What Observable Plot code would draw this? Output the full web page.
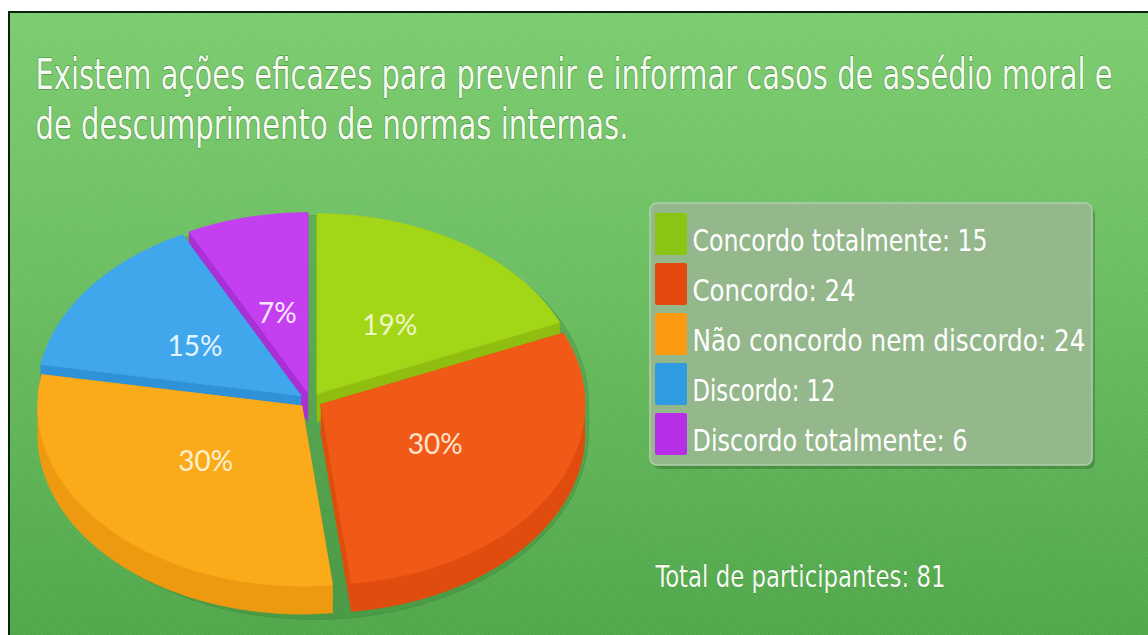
<!DOCTYPE html>
<html>
<head>
<meta charset="utf-8">
<script src="https://cdn.jsdelivr.net/npm/d3@7"></script>
<script src="https://cdn.jsdelivr.net/npm/@observablehq/plot@0.6"></script>
<style>
  html, body { margin: 0; padding: 0; background: #ffffff; }
  #frame { position: absolute; left: 0; top: 0; width: 1148px; height: 635px; background: #ffffff; overflow: hidden; }
  #bg {
    position: absolute; left: 8px; top: 11px; width: 1140px; height: 624px;
    border-left: 2px solid #0d1f0d; border-top: 2px solid #0d1f0d;
    background:
      repeating-linear-gradient(45deg, rgba(255,255,255,0.05) 0px, rgba(255,255,255,0.05) 1px, rgba(0,0,0,0) 1px, rgba(0,0,0,0) 3px),
      linear-gradient(180deg, #7bcc6f 0%, #6abd60 45%, #4fa74a 100%);
  }
  #chart { position: absolute; left: 0; top: 0; }
</style>
</head>
<body>
<div id="frame">
  <div id="bg"></div>
  <div id="chart"></div>
</div>
<script>
// ---------- data ----------
const titleLines = [
  "Existem ações eficazes para prevenir e informar casos de assédio moral e",
  "de descumprimento de normas internas."
];
const categories = ["Concordo totalmente", "Concordo", "Não concordo nem discordo", "Discordo", "Discordo totalmente"];
const counts = [15, 24, 24, 12, 6];
const percentLabels = ["19%", "30%", "30%", "15%", "7%"];
const totalLabel = "Total de participantes: 81";

// ---------- styles ----------
const topColors   = ["#a3d616", "#f15a16", "#fbab19", "#40a7ec", "#c43ff0"];
const sideColors  = ["#8fbd10", "#e04c0d", "#ee9a10", "#2f92d9", "#a92fd6"];
const swatchColors = ["#8cc414", "#e44a10", "#fd9b10", "#2f9be0", "#b82ee8"];
const labelColors = ["#eef7c4", "#fde3cf", "#fff0cf", "#e4f3ff", "#f9e6ff"];

const W = 1148, H = 635;
const CX = 310, CY = 400, RX = 264, RY = 180, DEPTH = 28, EX = 12, EY = 8;

// ---------- geometry from data ----------
const arcs = d3.pie().sort(null)(counts);
const polys = [];
let pid = 0;
function addPoly(points, fill, group) {
  const id = pid++;
  points.forEach(p => polys.push({x: p[0], y: p[1], id, fill, group}));
}
const order = arcs.map((a, i) => i)
  .sort((a, b) => (-Math.cos((arcs[a].startAngle + arcs[a].endAngle) / 2)) - (-Math.cos((arcs[b].startAngle + arcs[b].endAngle) / 2)));

// soft shadow silhouette
{
  const pts = [];
  for (let k = 0; k <= 90; k++) {
    const a = -Math.PI / 2 + Math.PI * k / 90;
    pts.push([CX + 4 + (RX + 10) * Math.sin(a), CY + 2 - (RY + 7) * Math.cos(a)]);
  }
  for (let k = 0; k <= 90; k++) {
    const a = Math.PI / 2 + Math.PI * k / 90;
    pts.push([CX + 4 + (RX + 10) * Math.sin(a), CY + DEPTH + 4 - (RY + 7) * Math.cos(a)]);
  }
  addPoly(pts, "rgba(45,100,40,0.22)", "shadow");
}

const labelData = [];
order.forEach(i => {
  const p = arcs[i];
  const a0 = p.startAngle, a1 = p.endAngle, mid = (a0 + a1) / 2;
  const ox = EX * Math.sin(mid), oy = -EY * Math.cos(mid);
  const cx = CX + ox, cy = CY + oy;
  const at = (a, dz = 0) => [cx + RX * Math.sin(a), cy - RY * Math.cos(a) + dz];
  const n = Math.max(10, Math.ceil((a1 - a0) * 60));
  // radial side faces
  addPoly([[cx, cy], at(a0), at(a0, DEPTH), [cx, cy + DEPTH]], sideColors[i], "side");
  addPoly([[cx, cy], at(a1), at(a1, DEPTH), [cx, cy + DEPTH]], sideColors[i], "side");
  // outer wall (front half)
  const w0 = Math.max(a0, Math.PI / 2), w1 = Math.min(a1, 3 * Math.PI / 2);
  if (w1 > w0) {
    const pts = [];
    const m = Math.max(8, Math.ceil((w1 - w0) * 60));
    for (let k = 0; k <= m; k++) pts.push(at(w0 + (w1 - w0) * k / m));
    for (let k = m; k >= 0; k--) pts.push(at(w0 + (w1 - w0) * k / m, DEPTH));
    addPoly(pts, sideColors[i], "side");
  }
  // top face
  const top = [[cx, cy]];
  for (let k = 0; k <= n; k++) top.push(at(a0 + (a1 - a0) * k / n));
  top.push([cx, cy]);
  addPoly(top, topColors[i], "top");
  labelData.push({
    x: cx + 0.5 * RX * Math.sin(mid),
    y: cy - 0.45 * RY * Math.cos(mid),
    text: percentLabels[i],
    color: labelColors[i]
  });
});

// legend
const legendItems = categories.map((c, i) => ({
  label: `${c}: ${counts[i]}`,
  color: swatchColors[i],
  row: i
}));
const LX1 = 650, LX2 = 1092, LY1 = 203, LY2 = 465, ROW0 = 213, ROWH = 50;

const condensed = "'Liberation Sans Narrow', 'DejaVu Sans Condensed', 'Roboto Condensed', 'Liberation Sans', sans-serif";

const chart = Plot.plot({
  width: W, height: H,
  margin: 0,
  style: {background: "transparent", overflow: "visible"},
  x: {domain: [0, W], range: [0, W], axis: null},
  y: {domain: [0, H], range: [0, H], axis: null},
  color: {type: "identity"},
  marks: [
    // title
    Plot.text(titleLines, {
      x: 35, y: (d, i) => 88 + i * 50, text: d => d,
      textAnchor: "start", lineAnchor: "bottom",
      fontFamily: condensed, fontSize: 32,
      fill: "#f3fbee", stroke: "rgba(40,80,35,0.45)", strokeWidth: 1.1, paintOrder: "stroke"
    }),
    // pie
    Plot.line(polys, {x: "x", y: "y", z: "id", fill: "fill", stroke: "fill", strokeWidth: 0.8, curve: "linear"}),
    Plot.text(labelData, {
      x: "x", y: "y", text: "text", fill: "color",
      fontFamily: "Lato, 'Open Sans', sans-serif", fontSize: 28, lineAnchor: "middle"
    }),
    // legend box
    Plot.rect([{x1: LX1 + 3, x2: LX2 + 3, y1: LY1 + 4, y2: LY2 + 4}], {
      x1: "x1", x2: "x2", y1: "y1", y2: "y2", fill: "rgba(40,85,35,0.35)", rx: 7
    }),
    Plot.rect([{x1: LX1, x2: LX2, y1: LY1, y2: LY2}], {
      x1: "x1", x2: "x2", y1: "y1", y2: "y2", fill: "#94b78b", stroke: "#b2cfaa", strokeWidth: 1.5, rx: 7
    }),
    Plot.rect(legendItems, {
      x1: 655, x2: 687, y1: d => ROW0 + d.row * ROWH, y2: d => ROW0 + d.row * ROWH + 42,
      fill: "color", rx: 2
    }),
    Plot.text(legendItems, {
      x: 692, y: d => 250 + d.row * ROWH, text: "label",
      textAnchor: "start", lineAnchor: "bottom",
      fontFamily: condensed, fontSize: 31, fill: "#ffffff"
    }),
    // total
    Plot.text([totalLabel], {
      x: 655, y: 586, text: d => d,
      textAnchor: "start", lineAnchor: "bottom",
      fontFamily: condensed, fontSize: 30, fill: "#f3fbee",
      stroke: "rgba(40,80,35,0.35)", strokeWidth: 1, paintOrder: "stroke"
    })
  ]
});
document.getElementById("chart").appendChild(chart);

// fit the condensed texts to the widths seen in the reference
const targetWidths = new Map([
  [titleLines[0], 1077],
  [titleLines[1], 593],
  [legendItems[0].label, 295],
  [legendItems[1].label, 163],
  [legendItems[2].label, 393],
  [legendItems[3].label, 143],
  [legendItems[4].label, 275],
  [totalLabel, 290]
]);
chart.querySelectorAll("text").forEach(t => {
  const w = targetWidths.get(t.textContent);
  if (w) { t.setAttribute("textLength", w); t.setAttribute("lengthAdjust", "spacingAndGlyphs"); }
  if (titleLines.includes(t.textContent)) {
    const tr = t.getAttribute("transform");
    if (tr && tr.includes("translate")) t.setAttribute("transform", tr + " scale(1,1.33)");
  }
});
</script>
</body>
</html>
